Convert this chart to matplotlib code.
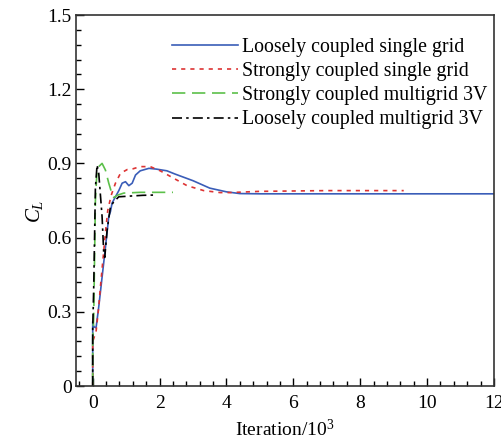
import matplotlib
matplotlib.use("Agg")
import matplotlib.pyplot as plt
from matplotlib.ticker import MultipleLocator, FuncFormatter

plt.rcParams['font.family'] = ['Liberation Serif', 'DejaVu Serif']
plt.rcParams['mathtext.fontset'] = 'custom'
plt.rcParams['mathtext.it'] = 'Liberation Serif:italic'
plt.rcParams['mathtext.rm'] = 'Liberation Serif'

# Loosely coupled single grid
blue_x = [0, 0.0, 0.03, 0.1, 0.18, 0.28, 0.38, 0.48, 0.53, 0.58, 0.68, 0.78, 0.88, 0.98, 1.08, 1.18,
          1.28, 1.42, 1.68, 1.9, 2.22, 2.46, 3.0, 3.5, 4.0, 4.4, 5.0, 6.0, 8.0, 10.0, 12.0]
blue_y = [0, 0.26, 0.24, 0.235, 0.32, 0.44, 0.56, 0.685, 0.705, 0.74, 0.765, 0.79, 0.82, 0.826, 0.81, 0.82,
          0.853, 0.87, 0.88, 0.877, 0.87, 0.857, 0.83, 0.80, 0.785, 0.778, 0.777, 0.777, 0.777, 0.777, 0.777]
# Strongly coupled single grid
red_x = [0, 0.0, 0.1, 0.18, 0.23, 0.38, 0.45, 0.55, 0.68, 0.83, 1.03, 1.2, 1.42, 1.72, 2.02, 2.42,
         2.82, 3.32, 3.81, 4.1, 5.0, 7.0, 9.3]
red_y = [0, 0.18, 0.22, 0.32, 0.40, 0.62, 0.71, 0.77, 0.82, 0.86, 0.875, 0.878, 0.887, 0.887, 0.87, 0.84,
         0.81, 0.79, 0.782, 0.782, 0.787, 0.79, 0.79]
# Strongly coupled multigrid 3V
green_x = [0, 0.0, 0.03, 0.08, 0.13, 0.18, 0.28, 0.38, 0.48, 0.58, 0.63, 0.75, 0.93, 1.42, 2.4]
green_y = [0, 0.186, 0.28, 0.75, 0.875, 0.887, 0.90, 0.873, 0.82, 0.775, 0.762, 0.772, 0.78, 0.783, 0.783]
# Loosely coupled multigrid 3V
black_x = [0, 0.0, 0.03, 0.08, 0.13, 0.18, 0.28, 0.33, 0.36, 0.43, 0.53, 0.63, 0.78, 1.13, 1.5, 1.83]
black_y = [0, 0.23, 0.40, 0.80, 0.894, 0.86, 0.685, 0.536, 0.52, 0.63, 0.725, 0.745, 0.765, 0.768, 0.771, 0.772]

labels = ['Loosely coupled single grid', 'Strongly coupled single grid',
          'Strongly coupled multigrid 3V', 'Loosely coupled multigrid 3V']

x_ticks = [0, 2, 4, 6, 8, 10, 12]
y_ticks = [0, 0.3, 0.6, 0.9, 1.2, 1.5]

fig = plt.figure(figsize=(5.02, 4.40), dpi=100)
ax = fig.add_axes([76/502, 1 - 386/440, (494-76)/502, (386-15)/440])

ax.plot(blue_x, blue_y, color='#3a5db8', lw=1.2, ls='-', label=labels[0])
ax.plot(red_x, red_y, color='#dd3333', lw=1.2, ls=(0, (2.5, 3)), label=labels[1])
ax.plot(green_x, green_y, color='#5cc04a', lw=1.2, ls=(0, (8, 4)), label=labels[2])
ax.plot(black_x, black_y, color='black', lw=1.2, ls=(0, (6, 2.5, 1.5, 2.5)), label=labels[3])

ax.set_xlim(-0.5, 12)
ax.set_ylim(0, 1.5)
ax.set_xticks(x_ticks)
ax.set_yticks(y_ticks)
ax.xaxis.set_minor_locator(MultipleLocator(0.4))
ax.yaxis.set_minor_locator(MultipleLocator(0.06))
ax.yaxis.set_major_formatter(FuncFormatter(lambda v, p: '0' if abs(v) < 1e-9 else f'{v:.1f}'))
ax.tick_params(which='both', direction='in', top=False, right=False, labelsize=14)
ax.tick_params(axis='x', which='major', pad=6.5)
ax.tick_params(axis='y', which='major', pad=3)
ax.tick_params(which='major', length=6, width=1.0)
ax.tick_params(which='minor', length=3.5, width=1.0)
for s in ax.spines.values():
    s.set_linewidth(1.2)
    s.set_color('#333333')

ax.set_xlabel('Iteration/10$^3$', fontsize=14, labelpad=5)
ax.set_ylabel('$C_L$', fontsize=15)
ax.yaxis.set_label_coords(-0.075, 0.47)

leg = ax.legend(loc='upper left', bbox_to_anchor=(172/502, 1 - 38/440), bbox_transform=fig.transFigure,
                frameon=False, fontsize=14.3, handlelength=3.3, handletextpad=0.2,
                labelspacing=0.26, borderpad=0, borderaxespad=0)

fig.savefig('out.png', dpi=100)
